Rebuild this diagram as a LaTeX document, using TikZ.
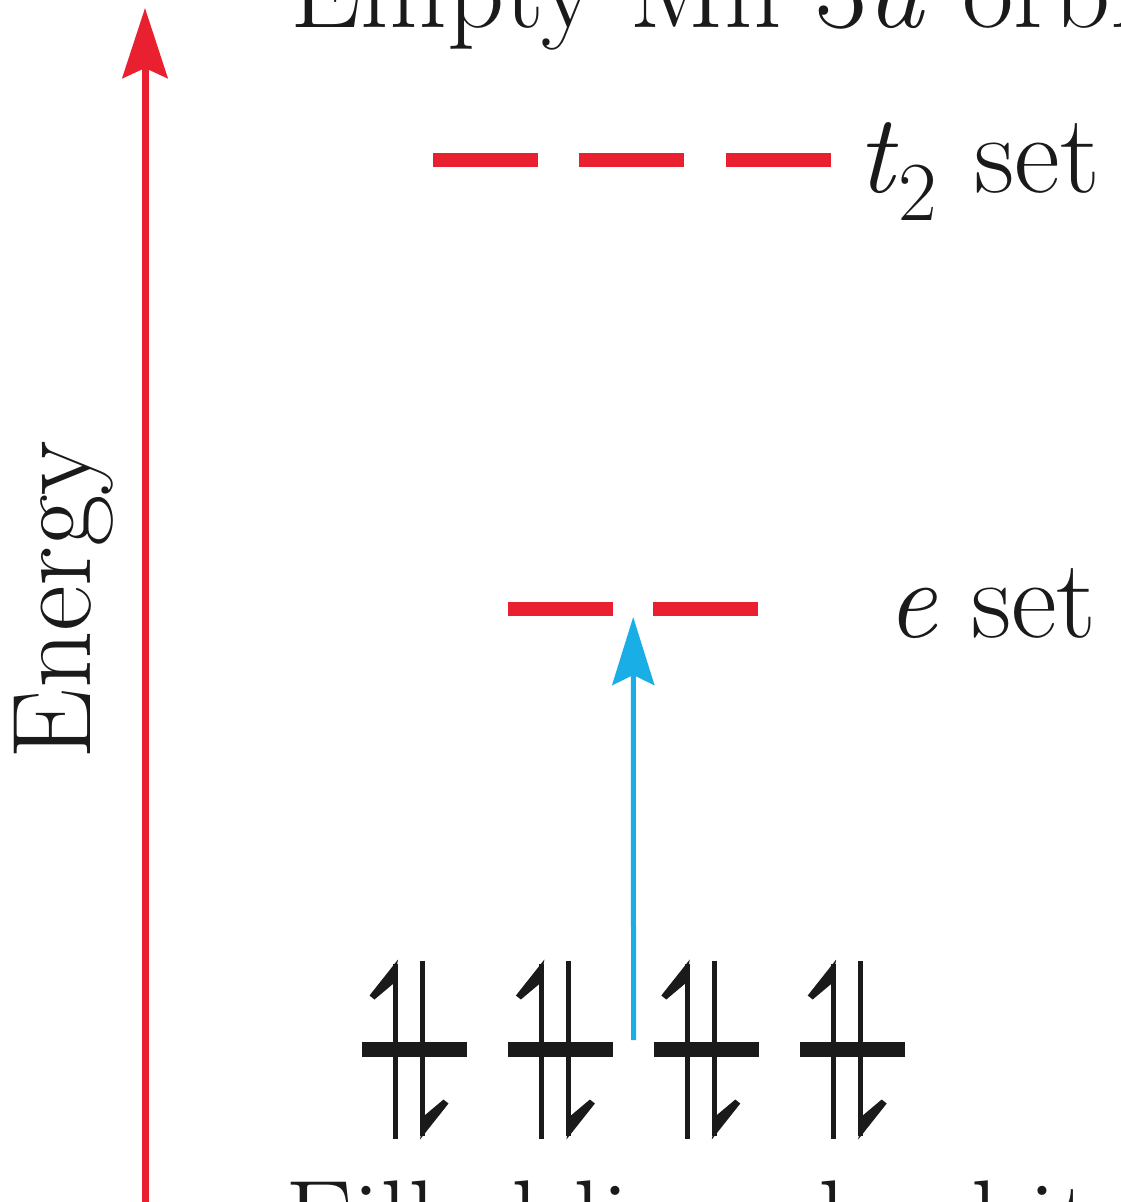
\documentclass[tikz,border=0pt]{standalone}
\usepackage{tikz}
\usetikzlibrary{arrows.meta,positioning,calc}
\definecolor{lvlRed}{HTML}{E8202F}
\definecolor{excBlue}{HTML}{19AEE6}
\definecolor{inkK}{HTML}{1A1A1A}

\tikzset{
  level/.style={fill=lvlRed, minimum width=105pt, minimum height=14pt, inner sep=0pt},
  filledlvl/.style={fill=inkK, minimum width=105pt, minimum height=15pt, inner sep=0pt},
  lbltext/.style={anchor=base west, text=inkK, inner sep=0pt},
  spin/.style={draw=inkK, line width=5pt},
  barb/.style={fill=inkK},
}

\begin{document}
\begin{tikzpicture}[x=1pt, y=-1pt, font=\fontsize{112}{124}\selectfont]
  \useasboundingbox (0,0) rectangle (1120,1202);
  \clip (0,0) rectangle (1120,1202);

  % energy axis
  \coordinate (ebot) at (145,1215);
  \coordinate (etop) at (145,8);
  \draw[lvlRed, line width=7pt, -{Stealth[length=70pt,width=45pt,inset=10pt]}] (ebot) -- (etop);
  \node[rotate=90, anchor=base, text=inkK, inner sep=0pt] (energy) at (90,600) {Energy};

  % empty Mn 3d orbitals
  \node[lbltext] (toplbl) at (290,27) {Empty Mn 3\textit{d} orbitals};

  \node[level] (t2a) at (485.5,160) {};
  \node[level, right=41pt of t2a] (t2b) {};
  \node[level, right=41pt of t2b] (t2c) {};
  \node[lbltext] (t2lbl) at (857,192) {\textit{t}\raisebox{-28pt}{\fontsize{84}{90}\selectfont 2}\hspace{4pt} set};

  \node[level] (ea) at (560.5,609) {};
  \node[level, right=40pt of ea] (eb) {};
  \node[lbltext] (elbl) at (886,637) {\textit{e} set};

  % filled ligand orbitals
  \node[filledlvl] (l1) at (414.5,1049.5) {};
  \node[filledlvl, right=41pt of l1] (l2) {};
  \node[filledlvl, right=40pt of l2] (l3) {};
  \node[filledlvl, right=41pt of l3] (l4) {};
  \foreach \o in {l1,l2,l3,l4}{
    \begin{scope}[shift={(\o)}]
      \draw[spin] (-19,89) -- (-19,-86);
      \fill[barb] (-16.5,-90) -- (-45,-54) -- (-40,-50) -- (-21,-66) -- cycle;
      \draw[spin] (8,-89) -- (8,86);
      \fill[barb] (5.5,90) -- (34,54) -- (29,50) -- (10,66) -- cycle;
    \end{scope}
  }
  \node[lbltext] (botlbl) at (285,1258) {Filled ligand orbitals};

  % excitation
  \coordinate (lgap) at ($(l2.east)!.5!(l3.west)+(0,-9.5)$);
  \coordinate (egap) at ($(ea.east)!.5!(eb.west)+(0,8)$);
  \draw[excBlue, line width=5pt, -{Stealth[length=68pt,width=42pt,inset=10pt]}] (lgap) -- (egap);
\end{tikzpicture}
\end{document}
